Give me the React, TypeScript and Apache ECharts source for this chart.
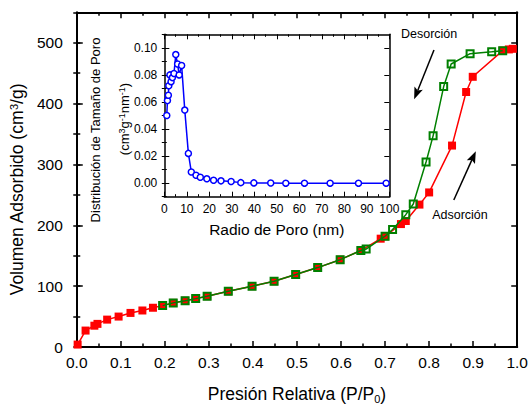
import React, { useEffect, useRef } from 'react';
import * as echarts from 'echarts';

const FONT = "'Liberation Sans', Arial, Helvetica, sans-serif";

// Isotherm data (P/P0 vs volume adsorbed, cm3/g)
const adsorptionP = [0.002, 0.02, 0.04, 0.047, 0.069, 0.095, 0.122, 0.149, 0.173, 0.195, 0.219, 0.246, 0.27, 0.296, 0.344, 0.398, 0.448, 0.497, 0.547, 0.598, 0.645, 0.69, 0.70, 0.736, 0.747, 0.778, 0.80, 0.852, 0.884, 0.899, 0.967, 0.981, 0.99];
const adsorptionV = [4, 27, 35, 38, 45, 50, 56, 60, 64.5, 68, 72.5, 76, 79.5, 83.5, 91.5, 100, 108, 119, 130.5, 143.5, 158.5, 178, 182, 202, 207, 234, 254, 331, 419, 444, 487, 489, 490];

const desorptionP = [0.195, 0.219, 0.246, 0.27, 0.296, 0.344, 0.398, 0.448, 0.497, 0.547, 0.598, 0.645, 0.657, 0.70, 0.717, 0.747, 0.764, 0.793, 0.809, 0.833, 0.85, 0.893, 0.942, 0.967];
const desorptionV = [68, 72.5, 76, 79.5, 83.5, 91.5, 100, 108, 119, 130.5, 143.5, 158.5, 161, 182, 193, 217.5, 235, 304, 347, 428, 465, 482, 485, 487];

// Inset: pore size distribution
const poreRadius = [1.1, 1.4, 1.8, 2.0, 2.5, 3.0, 3.6, 4.3, 5.1, 5.9, 6.6, 7.7, 9.1, 10.7, 12.0, 14.1, 16.0, 18.9, 21.9, 25.2, 29.7, 34.0, 39.8, 47.3, 54.0, 62.3, 73.7, 86.3, 98.6];
const poreDist = [0.050, 0.061, 0.065, 0.072, 0.080, 0.075, 0.078, 0.081, 0.095, 0.088, 0.080, 0.087, 0.054, 0.022, 0.0083, 0.0059, 0.0044, 0.0032, 0.0022, 0.0017, 0.0012, 0.0004, 0.0002, 0.0001, 0, 0, 0, 0, 0];

// Tick label values
const insetYTicks = [0, 0.02, 0.04, 0.06, 0.08, 0.1];

// Arrows (data coordinates of main plot): [tail, tip]
const desorcionArrow = [[0.811, 488], [0.766, 407]];
const adsorcionArrow = [[0.856, 241.6], [0.906, 321.8]];
const desorcionLabelPos = [0.8, 514];
const adsorcionLabelPos = [0.87, 217];

const zip = (a: number[], b: number[]) => a.map((v, i) => [v, b[i]]);

export default function App() {
  const ref = useRef<HTMLDivElement>(null);
  useEffect(() => {
    const chart = echarts.init(ref.current!, undefined, { renderer: 'svg' });

    const mainLine = { show: true, onZero: false, lineStyle: { color: '#000', width: 2 } };
    const mainTick = { show: true, inside: true, length: 6, lineStyle: { color: '#000', width: 1.5 } };
    const mainMinor = { show: true, splitNumber: 2, length: 3.5, lineStyle: { color: '#000', width: 1.5 } };
    const insetLine = { show: true, onZero: false, lineStyle: { color: '#000', width: 1.5 } };
    const insetTick = { show: true, inside: true, length: 5, lineStyle: { color: '#000', width: 1 } };
    const insetMinor = { show: true, splitNumber: 2, length: 2.5, lineStyle: { color: '#000', width: 1 } };
    const noSplit = { show: false };

    const option: any = {
      animation: false,
      backgroundColor: '#fff',
      grid: [
        { left: 76, right: 10.3, top: 12.3, bottom: 58, containLabel: false },
        { left: 164.3, right: 141.7, top: 34.3, bottom: 212.3, show: true, backgroundColor: '#fff', borderWidth: 0, containLabel: false },
      ],
      xAxis: [
        {
          gridIndex: 0, type: 'value', min: 0, max: 1, interval: 0.1, position: 'bottom',
          axisLine: mainLine, axisTick: mainTick, minorTick: mainMinor, splitLine: noSplit, minorSplitLine: noSplit,
          axisLabel: { color: '#000', fontSize: 15.5, fontFamily: FONT, margin: 7.5, formatter: (v: number) => v.toFixed(1) },
          name: 'Presión Relativa (P/P{sub|0})', nameLocation: 'middle', nameGap: 37,
          nameTextStyle: { color: '#000', fontSize: 17.5, fontFamily: FONT, lineHeight: 20, rich: { sub: { fontSize: 11, verticalAlign: 'bottom', fontFamily: FONT, color: '#000' } } },
        },
        {
          gridIndex: 0, type: 'value', min: 0, max: 1, interval: 0.1, position: 'top',
          axisLine: mainLine, axisTick: mainTick, minorTick: mainMinor, splitLine: noSplit, axisLabel: { show: false },
        },
        {
          gridIndex: 1, type: 'value', min: 0, max: 100, interval: 10, position: 'bottom',
          axisLine: insetLine, axisTick: insetTick, minorTick: insetMinor, splitLine: noSplit, minorSplitLine: noSplit,
          axisLabel: { color: '#000', fontSize: 12, fontFamily: FONT, margin: 6 },
          name: 'Radio de Poro (nm)', nameLocation: 'middle', nameGap: 25,
          nameTextStyle: { color: '#000', fontSize: 15.5, fontFamily: FONT },
        },
        {
          gridIndex: 1, type: 'value', min: 0, max: 100, interval: 10, position: 'top',
          axisLine: insetLine, axisTick: insetTick, minorTick: insetMinor, splitLine: noSplit, axisLabel: { show: false },
        },
      ],
      yAxis: [
        {
          gridIndex: 0, type: 'value', min: 0, max: 550, interval: 100, position: 'left',
          axisLine: mainLine, axisTick: mainTick, splitLine: noSplit,
          axisLabel: { color: '#000', fontSize: 15.5, fontFamily: FONT, margin: 14, formatter: (v: number) => (v % 100 === 0 ? String(v) : '') },
          name: 'Volumen Adsorbido (cm{sup|3}/g)', nameLocation: 'middle', nameGap: 47,
          nameTextStyle: { color: '#000', fontSize: 17.5, fontFamily: FONT, padding: [0, 20, 0, 0], rich: { sup: { fontSize: 11, verticalAlign: 'top', fontFamily: FONT, color: '#000' } } },
        },
        {
          gridIndex: 0, type: 'value', min: 0, max: 550, interval: 50, position: 'left',
          axisLine: { show: false }, axisTick: { show: true, inside: true, length: 3.5, lineStyle: { color: '#000', width: 1.5 } }, splitLine: noSplit, axisLabel: { show: false },
        },
        {
          gridIndex: 0, type: 'value', min: 0, max: 550, interval: 100, position: 'right',
          axisLine: mainLine, axisTick: mainTick, splitLine: noSplit, axisLabel: { show: false },
        },
        {
          gridIndex: 0, type: 'value', min: 0, max: 550, interval: 50, position: 'right',
          axisLine: { show: false }, axisTick: { show: true, inside: true, length: 3.5, lineStyle: { color: '#000', width: 1.5 } }, splitLine: noSplit, axisLabel: { show: false },
        },
        {
          gridIndex: 1, type: 'value', min: -0.01, max: 0.11, position: 'left',
          axisLine: insetLine, axisTick: { ...insetTick, customValues: insetYTicks }, splitLine: noSplit,
          axisLabel: { customValues: insetYTicks, color: '#000', fontSize: 12, fontFamily: FONT, margin: 7, formatter: (v: number) => v.toFixed(2) },
        },
        {
          gridIndex: 1, type: 'value', min: -0.01, max: 0.11, interval: 0.01, position: 'left',
          axisLine: { show: false }, axisTick: { show: true, inside: true, length: 2.5, lineStyle: { color: '#000', width: 1 } }, splitLine: noSplit, axisLabel: { show: false },
        },
        {
          gridIndex: 1, type: 'value', min: -0.01, max: 0.11, position: 'right',
          axisLine: insetLine, axisTick: { ...insetTick, customValues: insetYTicks }, splitLine: noSplit,
          axisLabel: { show: false, customValues: insetYTicks },
        },
        {
          gridIndex: 1, type: 'value', min: -0.01, max: 0.11, interval: 0.01, position: 'right',
          axisLine: { show: false }, axisTick: { show: true, inside: true, length: 2.5, lineStyle: { color: '#000', width: 1 } }, splitLine: noSplit, axisLabel: { show: false },
        },
      ],
      series: [
        {
          type: 'line', name: 'Adsorción', xAxisIndex: 0, yAxisIndex: 0, data: zip(adsorptionP, adsorptionV),
          symbol: 'rect', symbolSize: 8, itemStyle: { color: '#ff0000' }, lineStyle: { color: '#ff0000', width: 1.5 }, z: 3,
        },
        {
          type: 'line', name: 'Desorción', xAxisIndex: 0, yAxisIndex: 0, data: zip(desorptionP, desorptionV),
          symbol: 'rect', symbolSize: 7, itemStyle: { color: 'rgba(0,0,0,0)', borderColor: '#008000', borderWidth: 2 },
          lineStyle: { color: '#008000', width: 1.5 }, z: 4,
        },
        {
          type: 'line', name: 'PSD', xAxisIndex: 2, yAxisIndex: 4, data: zip(poreRadius, poreDist),
          symbol: 'circle', symbolSize: 6, itemStyle: { color: '#fff', borderColor: '#0000ff', borderWidth: 1.5 },
          lineStyle: { color: '#0000ff', width: 1.5 }, z: 10,
        },
      ],
    };
    chart.setOption(option);

    const finder = { xAxisIndex: 0, yAxisIndex: 0 };
    const arrowEls = (arrow: number[][]) => {
      const pa = chart.convertToPixel(finder, arrow[0]) as number[];
      const pb = chart.convertToPixel(finder, arrow[1]) as number[];
      const dx = pb[0] - pa[0];
      const dy = pb[1] - pa[1];
      const len = Math.hypot(dx, dy);
      const ux = dx / len;
      const uy = dy / len;
      const headL = 12;
      const headW = 4.5;
      const base = [pb[0] - ux * headL, pb[1] - uy * headL];
      const notch = [pb[0] - ux * headL * 0.8, pb[1] - uy * headL * 0.8];
      return [
        { type: 'line', shape: { x1: pa[0], y1: pa[1], x2: notch[0], y2: notch[1] }, style: { stroke: '#000', lineWidth: 1.5 }, z: 20 },
        {
          type: 'polygon',
          shape: { points: [pb, [base[0] - uy * headW, base[1] + ux * headW], notch, [base[0] + uy * headW, base[1] - ux * headW]] },
          style: { fill: '#000' }, z: 20,
        },
      ];
    };
    const dLab = chart.convertToPixel(finder, desorcionLabelPos) as number[];
    const aLab = chart.convertToPixel(finder, adsorcionLabelPos) as number[];

    chart.setOption({
      graphic: [
        ...arrowEls(desorcionArrow),
        ...arrowEls(adsorcionArrow),
        {
          type: 'text', x: dLab[0], y: dLab[1], z: 20,
          style: { text: 'Desorción', fontSize: 12.5, fontFamily: FONT, fill: '#000', align: 'center', verticalAlign: 'middle', textAlign: 'center', textVerticalAlign: 'middle' },
        },
        {
          type: 'text', x: aLab[0], y: aLab[1], z: 20,
          style: { text: 'Adsorción', fontSize: 12.5, fontFamily: FONT, fill: '#000', align: 'center', verticalAlign: 'middle', textAlign: 'center', textVerticalAlign: 'middle' },
        },
        {
          type: 'text', x: 95.5, y: 130, rotation: Math.PI / 2, z: 20,
          style: { text: 'Distribución de Tamaño de Poro', fontSize: 13, fontFamily: FONT, fill: '#000', align: 'center', verticalAlign: 'middle', textAlign: 'center', textVerticalAlign: 'middle' },
        },
        {
          type: 'text', x: 124, y: 119, rotation: Math.PI / 2, z: 20,
          style: {
            text: '(cm{sup|3}g{sup|-1}nm{sup|-1})', fontSize: 13, fontFamily: FONT, fill: '#000',
            align: 'center', verticalAlign: 'middle', textAlign: 'center', textVerticalAlign: 'middle',
            rich: { sup: { fontSize: 9, verticalAlign: 'top', fontFamily: FONT, fill: '#000', color: '#000' } },
          },
        },
      ],
    });

    return () => chart.dispose();
  }, []);
  return <div ref={ref} style={{ position: 'absolute', left: 0, top: 0, width: 531, height: 409, background: '#fff' }} />;
}
